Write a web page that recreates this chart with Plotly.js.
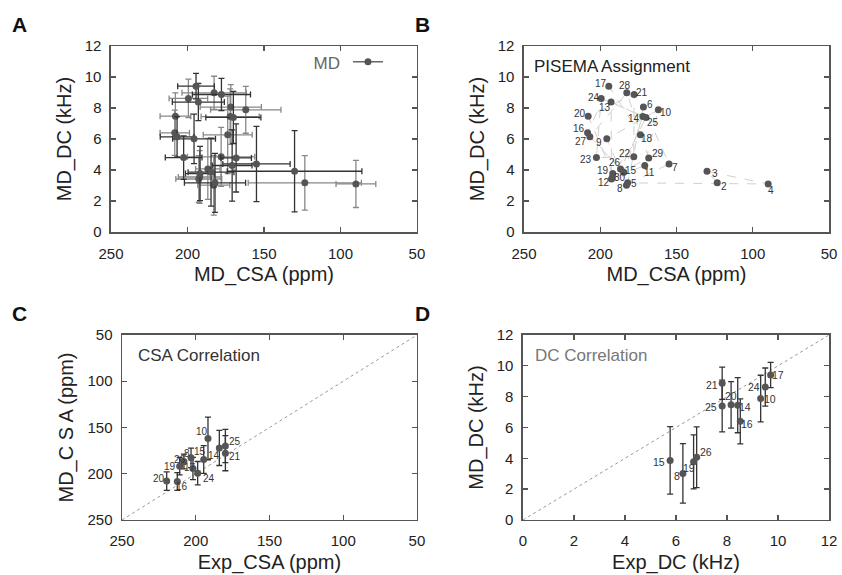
<!DOCTYPE html>
<html>
<head>
<meta charset="utf-8">
<script src="https://cdn.plot.ly/plotly-3.0.1.min.js"></script>
<style>html,body{margin:0;padding:0;background:#fff}#chart{width:842px;height:575px}</style>
</head>
<body>
<div id="chart"></div>
<script>
// ---- MD data (residues 2..30) ----
const residues = [2,3,4,5,6,7,8,9,10,11,12,13,14,15,16,17,18,19,20,21,22,23,24,25,26,27,28,29,30];
const mdCSA    = [123.3,130.0,89.9,182.0,171.7,154.9,182.8,195.7,161.9,170.8,192.6,192.9,172.1,184.6,208.3,194.4,173.7,191.8,207.9,177.8,178.0,202.5,199.4,170.0,186.7,206.8,182.6,168.2,192.0];
const mdDC     = [3.17,3.92,3.10,3.17,8.06,4.39,3.02,6.01,7.88,4.29,3.42,8.38,7.45,3.86,6.40,9.41,6.27,3.77,7.47,8.87,4.85,4.80,8.62,7.39,4.07,6.14,8.98,4.78,3.55];
const mdCSAerr = [37,44,13,20,20,22,10.5,14,23,13,15,17,19,15,9.6,12,16,9.5,10,19,22,12,12.6,18,8,11,21,10,14];
const mdDCerr  = [1.76,2.62,1.52,1.9,1.45,2.43,1.93,1.6,1.51,2.3,1.5,1.2,1.79,2.19,1.46,0.82,2.5,1.75,1.51,1.04,1.9,1.4,1.24,1.68,1.97,1.3,1.07,2.2,1.7];
// label offsets in px [right, up] (style only)
const labelOffB = [[6.3,-3.3],[8.3,-2.3],[3,-6.3],[6,-0.7],[6.3,3],[5.7,-3.7],[-6,-3.7],[-7.3,-4],[7.7,-2.3],[5,-7.3],[-7.7,-3.7],[-6.3,-5.7],[-9,-2.3],[7.7,1.7],[-8.7,4],[-8,2.7],[6.7,-4],[-10,2.7],[-7.7,2.7],[8,1.7],[-9,3],[-10.7,-1.7],[-6.7,0.7],[6.7,-4.7],[-5.7,6.7],[-8.7,-4.7],[-1.3,7.7],[9.3,4.7],[7.3,-1]];

// ---- Experimental data ----
const expResidues = [10,14,15,16,17,19,20,21,24,25,26,8];
const expCSA      = [191.7,184.0,194.6,212.5,201.9,210.9,219.7,179.9,198.7,179.9,208.0,203.2];
const expDC       = [9.32,8.42,5.77,8.52,9.71,6.69,8.16,7.81,9.50,7.81,6.81,6.27];
const labelOffC   = [[-6,7.3],[-5,-7.7],[-3.3,8.3],[4.7,-5.3],[-2.7,0.7],[-9.3,0],[-8,2.3],[10,-3.3],[11,-5.7],[10,4.7],[-4.3,2.3],[-4,4]];
const labelOffD   = [[9.3,-0.7],[7.3,-2],[-11,-1.3],[6.7,-2.3],[7,0.3],[-4.3,-6],[-0.3,9.3],[-9.7,-1.7],[-11,-0.3],[-11.3,-1],[9,5.7],[-5.7,-2.7]];

const csaRange = [250, 50];
const dcRange  = [0, 12];
const legendName = 'MD';

const FONT = 'Liberation Sans, Arial, sans-serif';
const markerC = '#555';
const darkE = '#333';
const lightE = '#888';

function pick(arr, idxs){ return idxs.map(i => arr[i]); }
const evenIdx = residues.map((r,i)=>i).filter(i => i % 2 === 0);
const oddIdx  = residues.map((r,i)=>i).filter(i => i % 2 === 1);
const expIdx = expResidues.map(r => residues.indexOf(r));

const traces = [];
// Panel A: MD with error bars (two shades)
[[evenIdx, lightE],[oddIdx, darkE]].forEach(([idx, col]) => {
  traces.push({
    x: pick(mdCSA, idx), y: pick(mdDC, idx), xaxis:'x', yaxis:'y',
    type:'scatter', mode:'markers', showlegend:false,
    marker:{color:markerC, size:7},
    error_x:{type:'data', array: pick(mdCSAerr, idx), color:col, thickness:1.3, width:3},
    error_y:{type:'data', array: pick(mdDCerr, idx), color:col, thickness:1.3, width:3}
  });
});
// legend entry
traces.push({x:[null], y:[null], xaxis:'x', yaxis:'y', type:'scatter', mode:'lines+markers', name:'',
  showlegend:true, line:{color:'#666', width:1.5}, marker:{color:markerC, size:7}});

// Panel B: sequential connection + points
traces.push({x: mdCSA, y: mdDC, xaxis:'x2', yaxis:'y2', type:'scatter', mode:'lines', showlegend:false,
  line:{color:'#d0d0d0', width:1, dash:'dash'}, hoverinfo:'skip'});
traces.push({x: mdCSA, y: mdDC, xaxis:'x2', yaxis:'y2', type:'scatter', mode:'markers', showlegend:false,
  marker:{color:markerC, size:7}});

// Panel C: diagonal + points
traces.push({x: csaRange, y: csaRange, xaxis:'x3', yaxis:'y3', type:'scatter', mode:'lines', showlegend:false,
  line:{color:'#999', width:1, dash:'dot'}});
traces.push({x: expCSA, y: pick(mdCSA, expIdx), xaxis:'x3', yaxis:'y3', type:'scatter', mode:'markers', showlegend:false,
  marker:{color:markerC, size:7},
  error_y:{type:'data', array: pick(mdCSAerr, expIdx), color:darkE, thickness:1.3, width:3}});

// Panel D: diagonal + points
traces.push({x: dcRange, y: dcRange, xaxis:'x4', yaxis:'y4', type:'scatter', mode:'lines', showlegend:false,
  line:{color:'#999', width:1, dash:'dot'}});
traces.push({x: expDC, y: pick(mdDC, expIdx), xaxis:'x4', yaxis:'y4', type:'scatter', mode:'markers', showlegend:false,
  marker:{color:markerC, size:7},
  error_y:{type:'data', array: pick(mdDCerr, expIdx), color:darkE, thickness:1.3, width:3}});

function ax(domain, anchor, range, dtick, title, isX){
  return {
    domain: domain, anchor: anchor, range: range, dtick: dtick,
    ticks:'inside', ticklen:5, tickwidth:1.3, tickcolor:'#555',
    showline:true, mirror:'ticks', linecolor:'#555', linewidth:1.5,
    showgrid:false, zeroline:false,
    ticklabelstandoff: isX ? 7 : 5,
    tickfont:{family:FONT, size:15, color:'#222'},
    title:{text:title, font:{family:FONT, size:20, color:'#222'}, standoff: isX ? 6 : 8}
  };
}

function labelAnns(xs, ys, texts, offs, xref, yref, size){
  return texts.map((t,i) => ({
    x: xs[i], y: ys[i], xref: xref, yref: yref, text: String(t), showarrow:false,
    xshift: offs[i][0], yshift: offs[i][1], xanchor:'center', yanchor:'middle',
    font:{family:FONT, size:size, color:'#333'}
  }));
}

const panelAnns = [
  {text:'<b>A</b>', x:0.012, y:0.957, xref:'paper', yref:'paper', showarrow:false, xanchor:'left', yanchor:'middle', font:{family:FONT, size:21, color:'#111'}},
  {text:'<b>B</b>', x:0.490, y:0.957, xref:'paper', yref:'paper', showarrow:false, xanchor:'left', yanchor:'middle', font:{family:FONT, size:21, color:'#111'}},
  {text:'<b>C</b>', x:0.012, y:0.455, xref:'paper', yref:'paper', showarrow:false, xanchor:'left', yanchor:'middle', font:{family:FONT, size:21, color:'#111'}},
  {text:'<b>D</b>', x:0.490, y:0.455, xref:'paper', yref:'paper', showarrow:false, xanchor:'left', yanchor:'middle', font:{family:FONT, size:21, color:'#111'}},
  {text:'PISEMA Assignment', x:0.632, y:0.885, xref:'paper', yref:'paper', showarrow:false, xanchor:'left', yanchor:'middle', font:{family:FONT, size:17, color:'#222'}},
  {text:'CSA Correlation', x:0.162, y:0.382, xref:'paper', yref:'paper', showarrow:false, xanchor:'left', yanchor:'middle', font:{family:FONT, size:17, color:'#333'}},
  {text:'DC Correlation', x:0.633, y:0.382, xref:'paper', yref:'paper', showarrow:false, xanchor:'left', yanchor:'middle', font:{family:FONT, size:17, color:'#777'}}
];

const layout = {
  width:842, height:575,
  margin:{l:0, r:0, t:0, b:0},
  paper_bgcolor:'#fff', plot_bgcolor:'#fff',
  font:{family:FONT},
  showlegend:true,
  legend:{x:0.370, y:0.918, xanchor:'left', yanchor:'top', bgcolor:'rgba(0,0,0,0)',
    title:{text:legendName, side:'left', font:{family:FONT, size:17, color:'#666'}},
    font:{family:FONT, size:1}},
  xaxis:  ax([0.1318,0.4952], 'y',  csaRange, 50, 'MD_CSA (ppm)', true),
  yaxis:  ax([0.5965,0.92],   'x',  dcRange, 2, 'MD_DC (kHz)', false),
  xaxis2: ax([0.6223,0.9846], 'y2', csaRange, 50, 'MD_CSA (ppm)', true),
  yaxis2: ax([0.5965,0.92],   'x2', dcRange, 2, 'MD_DC (kHz)', false),
  xaxis3: ax([0.1449,0.4952], 'y3', csaRange, 50, 'Exp_CSA (ppm)', true),
  yaxis3: ax([0.0957,0.4174], 'x3', csaRange, 50, 'MD_C S A (ppm)', false),
  xaxis4: ax([0.6211,0.9846], 'y4', dcRange, 2, 'Exp_DC (kHz)', true),
  yaxis4: ax([0.0957,0.4174], 'x4', dcRange, 2, 'MD_DC (kHz)', false),
  annotations: panelAnns
    .concat(labelAnns(mdCSA, mdDC, residues, labelOffB, 'x2', 'y2', 10))
    .concat(labelAnns(expCSA, pick(mdCSA, expIdx), expResidues, labelOffC, 'x3', 'y3', 10))
    .concat(labelAnns(expDC, pick(mdDC, expIdx), expResidues, labelOffD, 'x4', 'y4', 10.5))
};

Plotly.newPlot('chart', traces, layout, {staticPlot:true, displayModeBar:false});
</script>
</body>
</html>
